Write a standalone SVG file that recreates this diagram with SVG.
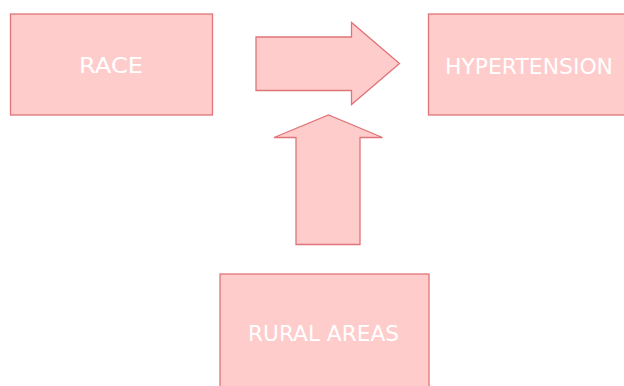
<svg xmlns="http://www.w3.org/2000/svg" width="624" height="386" viewBox="0 0 624 386">
<style>
.box{fill:#FFCCCC;stroke:#E07479;stroke-width:1.3}
.lbl{fill:#FFFFFF;font-family:"DejaVu Sans",Verdana,sans-serif;font-size:22px;text-anchor:middle}
.arrow{fill:#FFCCCC;stroke:#E07479;stroke-width:1.3;stroke-linejoin:miter}
</style>
<rect width="624" height="386" fill="#FFFFFF"/>
<g id="race">
<rect class="box" x="10.5" y="14" width="202" height="101"/>
<text class="lbl" x="111" y="73" textLength="64" lengthAdjust="spacingAndGlyphs">RACE</text>
</g>
<g id="hypertension">
<rect class="box" x="428.5" y="14" width="202" height="101"/>
<text class="lbl" x="529" y="74" textLength="168" lengthAdjust="spacingAndGlyphs">HYPERTENSION</text>
</g>
<g id="rural">
<rect class="box" x="220" y="274" width="209" height="118"/>
<text class="lbl" x="323.5" y="341" textLength="151" lengthAdjust="spacingAndGlyphs">RURAL AREAS</text>
</g>
<g id="connectors">
<polygon class="arrow" points="256,37 351.5,37 351.5,22.5 399.5,63.5 351.5,104.5 351.5,90.5 256,90.5"/>
<polygon class="arrow" points="296,244.5 296,137.5 274,137.5 328.5,115 382.5,137.5 360,137.5 360,244.5"/>
</g>
</svg>
